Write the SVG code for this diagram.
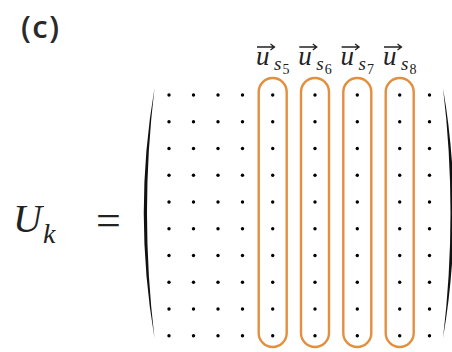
<svg xmlns="http://www.w3.org/2000/svg" width="452" height="352" viewBox="0 0 452 352">
<style>
.dot{fill:#000}
.grp{fill:none;stroke:#E28F3E;stroke-width:2.4}
.vec{fill:none;stroke:#222;stroke-width:1.3}
</style>
<defs>
<g id="col">
<circle cx="0" cy="95" r="1.7"/><circle cx="0" cy="121.75" r="1.7"/><circle cx="0" cy="148.5" r="1.7"/><circle cx="0" cy="175.25" r="1.7"/><circle cx="0" cy="202" r="1.7"/><circle cx="0" cy="228.75" r="1.7"/><circle cx="0" cy="255.5" r="1.7"/><circle cx="0" cy="282.25" r="1.7"/><circle cx="0" cy="309" r="1.7"/><circle cx="0" cy="335.75" r="1.7"/>
</g>
<g id="arr"><path class="vec" d="M0,0 H17 M13.5,-3 L17.5,0 L13.5,3"/></g>
</defs>
<text x="21" y="38" font-family="Open Sans, sans-serif" font-size="31" font-weight="600" letter-spacing="1.5" fill="#2a2a2a">(c)</text>
<g id="lhs" font-family="Liberation Serif, serif" fill="#222">
<text x="13" y="232" font-size="40" font-style="italic">U</text>
<text x="43" y="243" font-size="28" font-style="italic">k</text>
<text x="96" y="235" font-size="44">=</text>
</g>
<g id="matrix">
<path d="M154.5,88 Q133,213 154.5,338 Q139.5,213 154.5,88 Z" fill="#111"/>
<path d="M443,88 Q464.5,213 443,338 Q458,213 443,88 Z" fill="#111"/>
<g class="dot">
<use href="#col" x="169"/><use href="#col" x="193.5"/><use href="#col" x="218"/><use href="#col" x="242.5"/>
<use href="#col" x="272.7"/><use href="#col" x="315"/><use href="#col" x="357.3"/><use href="#col" x="399.7"/><use href="#col" x="429.5"/>
</g>
</g>
<g id="s5" font-family="Liberation Serif, serif" fill="#222"><rect class="grp" x="258.7" y="78" width="28" height="269" rx="14"/><use href="#arr" x="257" y="47"/><text x="256" y="65" font-size="27" font-style="italic">u</text><text x="274" y="70" font-size="19" font-style="italic">s</text><text x="282.5" y="73.5" font-size="14">5</text></g>
<g id="s6" font-family="Liberation Serif, serif" fill="#222"><rect class="grp" x="301" y="78" width="28" height="269" rx="14"/><use href="#arr" x="299.3" y="47"/><text x="298.3" y="65" font-size="27" font-style="italic">u</text><text x="316.3" y="70" font-size="19" font-style="italic">s</text><text x="324.8" y="73.5" font-size="14">6</text></g>
<g id="s7" font-family="Liberation Serif, serif" fill="#222"><rect class="grp" x="343.3" y="78" width="28" height="269" rx="14"/><use href="#arr" x="341.6" y="47"/><text x="340.6" y="65" font-size="27" font-style="italic">u</text><text x="358.6" y="70" font-size="19" font-style="italic">s</text><text x="367.1" y="73.5" font-size="14">7</text></g>
<g id="s8" font-family="Liberation Serif, serif" fill="#222"><rect class="grp" x="385.7" y="78" width="28" height="269" rx="14"/><use href="#arr" x="384" y="47"/><text x="383" y="65" font-size="27" font-style="italic">u</text><text x="401" y="70" font-size="19" font-style="italic">s</text><text x="409.5" y="73.5" font-size="14">8</text></g>
</svg>
